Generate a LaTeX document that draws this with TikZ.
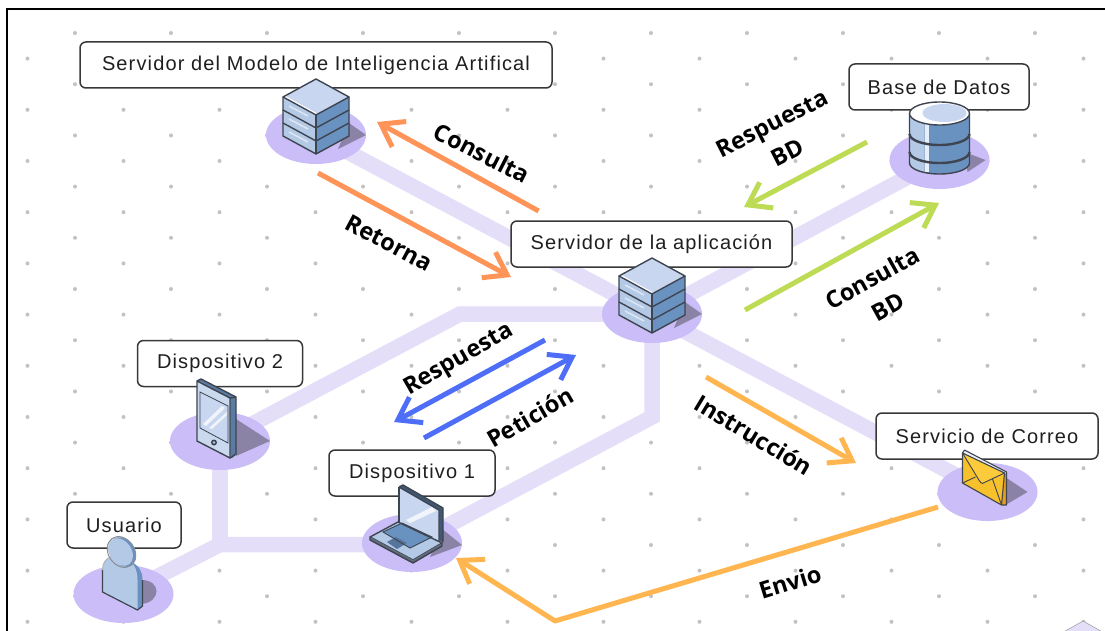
\documentclass[tikz,border=0pt]{standalone}
\usepackage{fontspec}
\setmainfont{Liberation Sans}
\newfontfamily\tagfont{Open Sans}[BoldFont={Open Sans Bold}]
\usetikzlibrary{arrows.meta,shapes.geometric}
\definecolor{pipec}{HTML}{E4DEF8}
\definecolor{diskc}{HTML}{CBBDF7}
\definecolor{shadec}{HTML}{8A83A6}
\definecolor{edgec}{HTML}{3E4450}
\definecolor{topc}{HTML}{C8D7EF}
\definecolor{lightc}{HTML}{B3C9E6}
\definecolor{darkc}{HTML}{6A92C0}
\definecolor{orangec}{HTML}{FF9459}
\definecolor{greenc}{HTML}{BEDB55}
\definecolor{bluec}{HTML}{4F6EF7}
\definecolor{amberc}{HTML}{FFB650}
\definecolor{mailc}{HTML}{F7C12C}
\definecolor{flapc}{HTML}{FCCB3C}
\definecolor{mailside}{HTML}{E89B1C}
\tikzset{
  griddot/.style={circle,fill=black!24,inner sep=0pt,minimum size=4pt},
  diskn/.style={ellipse,fill=diskc,minimum width=100pt,minimum height=58pt,inner sep=0pt},
  pipe/.style={draw=pipec,line width=15.5pt,line join=miter},
  lab/.style={draw=black!78,fill=white,line width=1.5pt,rounded corners=6pt,inner sep=0pt,text=black!88,
    font=\fontsize{20}{22}\selectfont\addfontfeature{LetterSpace=5.7}},
  tag/.style={text=black,align=center,inner sep=0pt,font=\tagfont\bfseries\fontsize{23.5}{33}\selectfont},
  flow/.style={line width=5pt,-{Straight Barb[length=21pt,width=29pt]},line join=round},
  edgeln/.style={draw=edgec,line width=1.4pt,line join=round},
  servericon/.pic={
    \fill[shadec] (33,-12) -- (50,0) -- (22,14) -- cycle;
    \foreach \l in {26,13,0}{
      \fill[lightc] (-33,{-38+\l}) -- (0,{-20+\l}) -- (0,{-7+\l}) -- (-33,{-25+\l}) -- cycle;
      \fill[darkc] (33,{-38+\l}) -- (0,{-20+\l}) -- (0,{-7+\l}) -- (33,{-25+\l}) -- cycle;
      \draw[white!55!lightc,line width=1.5pt] (-27,{-29+\l}) -- (-8,{-19+\l});
      \draw[edgeln] (-33,{-38+\l}) -- (-33,{-25+\l}) -- (0,{-7+\l}) -- (33,{-25+\l}) -- (33,{-38+\l});
      \draw[edgeln] (0,{-20+\l}) -- (0,{-7+\l});
    }
    \fill[topc] (0,-56) -- (33,-38) -- (0,-20) -- (-33,-38) -- cycle;
    \draw[white,line width=2pt] (-31,-38) -- (0,-21);
    \draw[edgeln] (0,-56) -- (33,-38) -- (0,-20) -- (-33,-38) -- cycle;
  },
  dbicon/.pic={
    \fill[shadec] (25,-8) -- (46,0) -- (28,12) -- cycle;
    \fill[darkc] (-30,-46) -- (-30,3) arc[start angle=180,end angle=0,x radius=30,y radius=11] -- (30,-46) -- cycle;
    \fill[lightc] (-30,-46) -- (-30,3) arc[start angle=180,end angle=120,x radius=30,y radius=11] -- (-15,-40) -- cycle;
    \fill[white!70!lightc] (-15,-36) rectangle (-11,12);
    \draw[edgec,line width=2.4pt] (-30,-26) arc[start angle=180,end angle=0,x radius=30,y radius=11];
    \draw[edgec,line width=2.4pt] (-30,-8) arc[start angle=180,end angle=0,x radius=30,y radius=11];
    \draw[edgeln] (-30,-46) -- (-30,3) arc[start angle=180,end angle=0,x radius=30,y radius=11] -- (30,-46);
    \fill[white] (0,-46.5) ellipse[x radius=30,y radius=11.5];
    \fill[topc] (5,-47) ellipse[x radius=22,y radius=9];
    \draw[edgeln] (0,-46.5) ellipse[x radius=30,y radius=11.5];
  },
  phoneicon/.pic={
    \fill[shadec] (16,-22) -- (50,0) -- (16,15) -- cycle;
    \fill[darkc!85!black] (-23,-60) -- (-19,-62) -- (16,-44) -- (16,13) -- (12,17) -- cycle;
    \fill[lightc!70!white] (-23,-60) -- (10,-43) -- (10,17) -- (-23,0) -- cycle;
    \fill[topc] (-20,-49) -- (8,-35) -- (8,2) -- (-20,-13) -- cycle;
    \fill[white!75!topc] (-17,-17) -- (2,-35) -- (5,-33) -- (-14,-15) -- cycle;
    \fill[white!75!topc] (-11,-13) -- (7,-29) -- (7,-26) -- (-8,-12) -- cycle;
    \draw[edgeln] (-23,-60) -- (10,-43) -- (10,17) -- (-23,0) -- cycle;
    \draw[edgeln] (-23,-60) -- (-19,-62) -- (16,-44) -- (16,13) -- (10,17);
    \draw[edgeln] (10,-43) -- (16,-44);
    \draw[edgec,line width=0.8pt] (-20,-49) -- (8,-35) -- (8,2) -- (-20,-13) -- cycle;
    \fill[edgec] (-6,1.5) circle[radius=3];
    \fill[lightc] (-6,1.5) circle[radius=1.4];
  },
  laptopicon/.pic={
    \fill[shadec] (30,-14) -- (50,2) -- (18,14) -- cycle;
    \fill[darkc!60!black] (-13,-56) -- (-9,-58) -- (31,-35) -- (31,-1) -- (27,-3) -- cycle;
    \fill[topc] (-13,-56) -- (27,-33) -- (27,-1) -- (-13,-21) -- cycle;
    \fill[white!75!topc] (-6,-23) -- (20,-36) -- (24,-32) -- (-2,-20) -- cycle;
    \draw[edgeln] (-13,-56) -- (-9,-58) -- (31,-35) -- (31,-1);
    \draw[edgeln] (-13,-56) -- (27,-33) -- (27,-1);
    \draw[edgeln] (-13,-56) -- (-13,-21);
    \fill[lightc] (-42,-6) -- (-14,-21) -- (30,0) -- (1,17) -- cycle;
    \fill[darkc] (-29,-11) -- (-10,-20) -- (20,-6) -- (-2,5) -- cycle;
    \fill[darkc!80!black] (-25,-1) -- (-16,-6) -- (-5,0) -- (-15,6) -- cycle;
    \draw[edgeln] (-42,-6) -- (-14,-21) -- (30,0) -- (1,17) -- cycle;
    \fill[edgec!70!lightc] (-42,-6) -- (-42,-3) -- (1,20) -- (30,3) -- (30,0) -- (1,17) -- cycle;
    \draw[edgeln] (-42,-6) -- (-42,-3) -- (1,20) -- (30,3) -- (30,0);
    \draw[edgec,line width=0.9pt] (-29,-11) -- (-10,-20) -- (20,-6) -- (-2,5) -- cycle;
  },
  usericon/.pic={
    \fill[shadec] (18,-14) .. controls (38,-14) and (38,8) .. (18,10) -- cycle;
    \fill[darkc] (8,-32) .. controls (16,-28) and (19,-22) .. (19,-14) -- (19,12) -- (14,16) -- cycle;
    \fill[lightc] (-21,-2) -- (-21,-24) .. controls (-21,-38) and (-8,-40) .. (0,-36) -- (6,-33) .. controls (12,-29) and (14,-22) .. (14,-14) -- (14,16) -- cycle;
    \draw[edgeln,line width=1.2pt] (-21,-24) -- (-21,-2) -- (14,16) -- (19,12) -- (19,-14);
    \draw[edgec!40!white,line width=1pt] (-21,-24) .. controls (-21,-38) and (-8,-40) .. (0,-36);
    \fill[darkc,rotate around={35:(-1,-42)}] (-1,-42) ellipse[x radius=12,y radius=16];
    \fill[lightc,rotate around={35:(-3,-42)}] (-3,-42) ellipse[x radius=11,y radius=15];
    \draw[edgec!60!white,line width=1pt,rotate around={35:(-2,-42)}] (-2,-42) ellipse[x radius=13,y radius=16.5];
  },
  mailicon/.pic={
    \fill[shadec] (19,-14) -- (40,0) -- (18,13) -- cycle;
    \fill[mailside] (14,-20) -- (19,-18) -- (19,13) -- (14,13) -- cycle;
    \fill[white!60!topc] (-25,-39) -- (-23,-42) -- (19,-20) -- (17,-19) -- cycle;
    \fill[mailc] (-25,-39) -- (17,-19) -- (14,13) -- (-25,-9) -- cycle;
    \fill[flapc] (-25,-39) -- (17,-19) -- (-6,-9) -- cycle;
    \draw[edgec,line width=0.9pt] (-25,-39) -- (-8,-11) .. controls (-6,-8) and (-4,-8) .. (-2,-10) -- (17,-19);
    \draw[edgec,line width=0.9pt] (-25,-9) -- (-12,-15);
    \draw[edgec,line width=0.9pt] (14,13) -- (5,-13);
    \draw[edgeln,line width=1.1pt] (-25,-39) -- (17,-19) -- (14,13) -- (-25,-9) -- cycle;
    \draw[edgeln,line width=1.1pt] (-25,-39) -- (-23,-42) -- (19,-20) -- (19,13) -- (14,13);
  }
}
\begin{document}
\begin{tikzpicture}[x=1pt,y=-1pt]
\useasboundingbox (0,0) rectangle (1105,631);
\fill[white] (0,0) rectangle (1105,631);
% dotted grid
\foreach \r in {0,2,...,22}{
  \foreach \c in {0,...,10}{
    \node[griddot] (ga\r c\c) at ({75+96*\c},{33+25.6*\r}) {};
  }
}
\foreach \r in {1,3,...,23}{
  \foreach \c in {0,...,11}{
    \node[griddot] (gb\r c\c) at ({27.5+96*\c},{33+25.6*\r}) {};
  }
}
% frame
\draw[black,line width=2pt] (7,631) -- (7,9.5) -- (1105,9.5);
% corner of a cut-off element
\fill[pipec,draw=black!40,line width=0.5pt] (1083,621) -- (1060,634) -- (1106,634) -- cycle;
% hubs
\coordinate (iaC) at (316,135);
\coordinate (dbC) at (939.5,160);
\coordinate (appC) at (652,314);
\coordinate (d2C) at (220,441);
\coordinate (d1C) at (412,544.5);
\coordinate (usrC) at (123.5,594);
\coordinate (mailC) at (987.5,492);
\coordinate (bendA) at (460,314);
\coordinate (bendB) at (652,417);
\coordinate (bendC) at (220,544.5);
% pipes
\draw[pipe] (iaC) -- (appC);
\draw[pipe] (dbC) -- (appC);
\draw[pipe] (mailC) -- (appC);
\draw[pipe] (d2C) -- (bendA) -- (appC);
\draw[pipe] (d1C) -- (bendB) -- (appC);
\draw[pipe] (usrC) -- (bendC) -- (d1C);
\draw[pipe] (d2C) -- (bendC) -- (d1C);
% disks
\node[diskn] (iaD) at (iaC) {};
\node[diskn] (dbD) at (dbC) {};
\node[diskn] (appD) at (appC) {};
\node[diskn] (d2D) at (d2C) {};
\node[diskn] (d1D) at (412,543) {};
\node[diskn] (usrD) at (usrC) {};
\node[diskn] (mailD) at (mailC) {};
% labels
\node[lab,minimum width=472pt,minimum height=46pt] (iaL) at (316,65) {Servidor del Modelo de Inteligencia Artifical};
\node[lab,minimum width=281pt,minimum height=46pt] (appL) at (651.5,244) {Servidor de la aplicación};
\node[lab,minimum width=180pt,minimum height=46pt] (dbL) at (939,87) {Base de Datos};
\node[lab,minimum width=165pt,minimum height=46pt] (d2L) at (220,363.5) {Dispositivo 2};
\node[lab,minimum width=166pt,minimum height=46pt] (d1L) at (412,473) {Dispositivo 1};
\node[lab,minimum width=114pt,minimum height=46pt] (usrL) at (124,525) {Usuario};
\node[lab,minimum width=222pt,minimum height=46pt] (mailL) at (987,436) {Servicio de Correo};
% icons
\pic at (iaC) {servericon};
\pic at (appC) {servericon};
\pic at (dbC) {dbicon};
\pic at (d2C) {phoneicon};
\pic at (412,543) {laptopicon};
\pic at (usrC) {usericon};
\pic at (mailC) {mailicon};
% arrow ends
\coordinate (aS) at (538.6,211);  \coordinate (aE) at (377,122);
\coordinate (bS) at (318,173);    \coordinate (bE) at (511,277);
\coordinate (cS) at (867,142);    \coordinate (cE) at (744,207);
\coordinate (dS) at (745,310);    \coordinate (dE) at (939,203);
\coordinate (eS) at (545,340);    \coordinate (eE) at (394,422);
\coordinate (fS) at (424,438);    \coordinate (fE) at (576,355);
\coordinate (gS) at (706,377);    \coordinate (gE) at (856,463);
\coordinate (hS) at (938,507);    \coordinate (hM) at (555,621); \coordinate (hE) at (456,558);
\draw[flow,draw=orangec] (aS) -- (aE);
\draw[flow,draw=orangec] (bS) -- (bE);
\draw[flow,draw=greenc] (cS) -- (cE);
\draw[flow,draw=greenc] (dS) -- (dE);
\draw[flow,draw=bluec] (eS) -- (eE);
\draw[flow,draw=bluec] (fS) -- (fE);
\draw[flow,draw=amberc] (gS) -- (gE);
\draw[flow,draw=amberc] (hS) -- (hM) -- (hE);
% flow texts
\node[tag,rotate=-27] (t1) at (482,153) {Consulta};
\node[tag,rotate=-28] (t2) at (389,243) {Retorna};
\node[tag,rotate=27] (t3) at (779.5,138) {Respuesta\\BD};
\node[tag,rotate=29] (t4) at (880,292) {Consulta\\BD};
\node[tag,rotate=30] (t5) at (459,360) {Respuesta};
\node[tag,rotate=30] (t6) at (530,417) {Petición};
\node[tag,rotate=-31] (t7) at (754,435) {Instrucción};
\node[tag,rotate=17] (t8) at (790,582) {Envio};
\end{tikzpicture}
\end{document}
